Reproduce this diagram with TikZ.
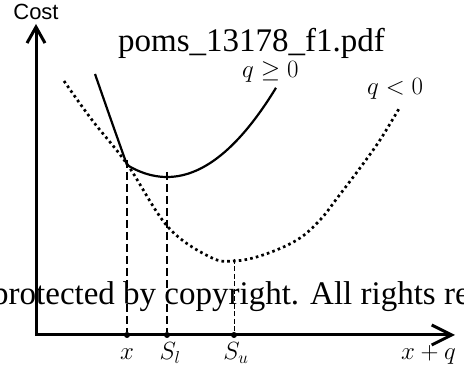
\documentclass[tikz,border=0pt]{standalone}
\usepackage{fontspec}
\usetikzlibrary{arrows.meta}
\newfontfamily\costfont{Liberation Sans}
\newfontfamily\wmfont{Liberation Serif}

\begin{document}
\begin{tikzpicture}[x=1pt,y=-1pt,
    achse/.style={line width=3pt,line join=miter,
                  {Straight Barb[length=16pt,width=18pt]}-{Straight Barb[length=20pt,width=20pt]}},
    kurve/.style={line width=2.2pt},
    punktiert/.style={line width=2.7pt,dash pattern=on 2.6pt off 3.2pt},
    lot/.style={line width=1.6pt,dash pattern=on 8pt off 4pt},
    lotfein/.style={line width=1pt,dash pattern=on 5pt off 2.5pt},
    punkt/.style={circle,fill,inner sep=0pt,minimum size=6pt},
    marke/.style={font=\fontsize{26}{30}\selectfont,anchor=base,inner sep=0pt},
    wasserzeichen/.style={font=\wmfont\fontsize{33}{36}\selectfont,anchor=base west,inner sep=0pt}]
  \useasboundingbox (0,0) rectangle (464,366);
  % achsen
  \coordinate (o) at (36,335);
  \coordinate (ymax) at (36,24);
  \coordinate (xmax) at (455,335);
  \draw[achse] (ymax) -- (o) -- (xmax);
  \node[font=\costfont\fontsize{22}{26}\selectfont,anchor=base,inner sep=0pt] (cost) at (36,20) {Cost};
  % kurven
  \draw[punktiert] plot[smooth,tension=0.6] coordinates {(64,81) (92,120) (127,164) (168,227)
      (210,257) (234,261) (263,255) (297,240) (320,220) (338,197) (360,168) (380,140) (400,107)};
  \coordinate (knick) at (127,165);
  \coordinate (sl) at (167,177);
  \coordinate (su) at (234,261);
  \draw[kurve] plot[smooth] coordinates {(95,74) (110,117) (knick)};
  \draw[kurve] plot[domain=127:276,samples=60] (\x,{177-0.0075*(\x-167)^2});
  % punkte auf der achse
  \node[punkt] (px) at (127,335) {};
  \node[punkt] (psl) at (167,335) {};
  \node[punkt] (psu) at (234,335) {};
  \draw[lot] ([yshift=5pt]knick) -- (px);
  \draw[lot] ([yshift=5pt]sl) -- (psl);
  \draw[lotfein] ([yshift=2pt]su) -- (psu);
  \node[marke] (lx) at (127,360) {$x$};
  \node[marke] (lsl) at (170,360) {$S_l$};
  \node[marke] (lsu) at (236,360) {$S_u$};
  \node[marke,anchor=base west] (lxq) at (401,360) {$x+q$};
  \node[marke,anchor=base west] (qge) at (242,78) {$q\geq 0$};
  \node[marke,anchor=base west] (qlt) at (367,95) {$q<0$};
  % wasserzeichen
  \begin{scope}
    \clip (0,0) rectangle (464,366);
    \node[wasserzeichen] (wz1) at (118,52) {poms\_13178\_f1.pdf};
    \node[wasserzeichen] (wz2) at (-8,305) {protected by copyright. All rights re};
  \end{scope}
\end{tikzpicture}
\end{document}
